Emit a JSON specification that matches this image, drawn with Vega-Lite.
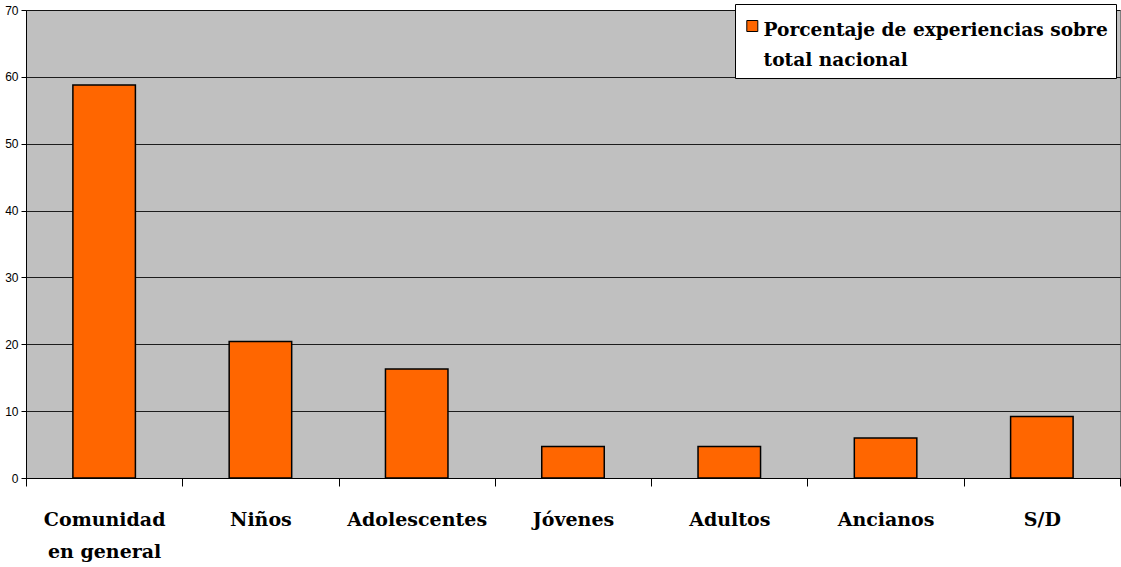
{
  "$schema": "https://vega.github.io/schema/vega-lite/v6.json",
  "autosize": "none",
  "width": 1094,
  "height": 468,
  "padding": {"left": 26, "top": 10, "right": 1, "bottom": 89},
  "background": "white",
  "data": {
    "values": [
      {"grupo": "Comunidad en general", "porcentaje": 58.8},
      {"grupo": "Niños", "porcentaje": 20.4},
      {"grupo": "Adolescentes", "porcentaje": 16.3},
      {"grupo": "Jóvenes", "porcentaje": 4.7},
      {"grupo": "Adultos", "porcentaje": 4.7},
      {"grupo": "Ancianos", "porcentaje": 6.0},
      {"grupo": "S/D", "porcentaje": 9.2}
    ]
  },
  "mark": {"type": "bar", "stroke": "#000", "strokeWidth": 1.5, "width": {"band": 0.4}},
  "encoding": {
    "x": {
      "field": "grupo",
      "type": "nominal",
      "sort": null,
      "scale": {"paddingInner": 0, "paddingOuter": 0},
      "axis": {
        "title": null,
        "labelAngle": 0,
        "labelFont": "DejaVu Serif",
        "labelFontWeight": "bold",
        "labelFontSize": 19,
        "labelColor": "#000",
        "labelPadding": 24,
        "labelLineHeight": 32,
        "labelBaseline": "top",
        "labelExpr": "datum.value == 'Comunidad en general' ? ['Comunidad', 'en general'] : datum.value",
        "tickBand": "extent",
        "tickSize": 8,
        "tickColor": "#000",
        "domainColor": "#000",
        "grid": false
      }
    },
    "y": {
      "field": "porcentaje",
      "type": "quantitative",
      "scale": {"domain": [0, 70], "nice": false},
      "axis": {
        "title": null,
        "values": [0, 10, 20, 30, 40, 50, 60, 70],
        "labelFont": "Liberation Sans",
        "labelFontSize": 12,
        "labelColor": "#000",
        "labelPadding": 3,
        "tickSize": 5,
        "tickColor": "#000",
        "domainColor": "#000",
        "grid": true,
        "gridColor": "#000",
        "gridOpacity": 0.85
      }
    },
    "fill": {
      "datum": "Porcentaje de experiencias sobre total nacional",
      "type": "nominal",
      "scale": {"range": ["#FF6600"]},
      "legend": {
        "orient": "none",
        "legendX": 709,
        "legendY": -6,
        "title": null,
        "fillColor": "white",
        "strokeColor": "#000",
        "padding": 8,
        "symbolType": "square",
        "symbolSize": 121,
        "symbolStrokeColor": "#000",
        "symbolStrokeWidth": 1,
        "labelFont": "DejaVu Serif",
        "labelFontWeight": "bold",
        "labelFontSize": 18.6,
        "labelColor": "#000",
        "labelLimit": 400,
        "labelBaseline": "top",
        "labelOffset": 2,
        "labelExpr": "['Porcentaje de experiencias sobre', 'total nacional']",
        "encode": {
          "labels": {"update": {"lineHeight": {"value": 30}}},
          "symbols": {"update": {"yc": {"value": 14}}}
        }
      }
    }
  },
  "config": {
    "view": {"fill": "#C0C0C0", "stroke": "#808080", "strokeWidth": 1}
  }
}
